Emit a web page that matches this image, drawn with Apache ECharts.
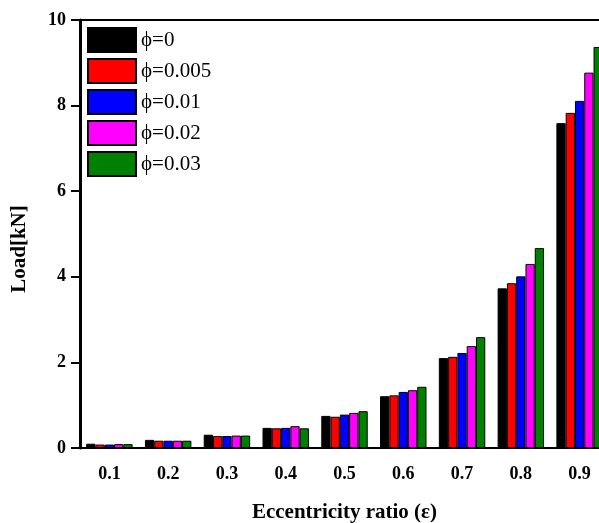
<!DOCTYPE html>
<html>
<head>
<meta charset="utf-8">
<script src="https://cdn.jsdelivr.net/npm/echarts@6/dist/echarts.min.js"></script>
<style>
html,body{margin:0;padding:0;background:#fff;}
#c{width:599px;height:523px;}
</style>
</head>
<body>
<div id="c"></div>
<script>
const categories = ['0.1','0.2','0.3','0.4','0.5','0.6','0.7','0.8','0.9'];
const seriesNames = ['ϕ=0','ϕ=0.005','ϕ=0.01','ϕ=0.02','ϕ=0.03'];
const phi0     = [0.10, 0.19, 0.31, 0.47, 0.75, 1.21, 2.10, 3.73, 7.59];
const phi0005  = [0.08, 0.17, 0.28, 0.46, 0.73, 1.23, 2.13, 3.85, 7.83];
const phi001   = [0.08, 0.17, 0.28, 0.47, 0.78, 1.31, 2.22, 4.01, 8.11];
const phi002   = [0.09, 0.17, 0.29, 0.51, 0.82, 1.35, 2.38, 4.30, 8.77];
const phi003   = [0.09, 0.17, 0.29, 0.46, 0.86, 1.43, 2.59, 4.67, 9.37];
const yTicks = [0, 2, 4, 6, 8, 10];

const colors = ['#000000','#ff0000','#0000ff','#ff00ff','#008000'];
const allData = [phi0, phi0005, phi001, phi002, phi003];
const font = 'Liberation Serif, Times New Roman, serif';

const chart = echarts.init(document.getElementById('c'), null, {renderer:'canvas'});
chart.setOption({
  animation: false,
  backgroundColor: '#fff',
  grid: {left: 80, top: 20, right: -10, bottom: 75, outerBoundsMode: 'none', containLabel: false,
         show: true, borderColor: '#000', borderWidth: 2, backgroundColor: 'transparent'},
  legend: {
    orient: 'vertical', left: 82, top: 22, itemWidth: 48, itemHeight: 24, itemGap: 5, icon: 'rect',
    textStyle: {fontFamily: font, fontSize: 21, color: '#000'},
    data: seriesNames
  },
  xAxis: {
    type: 'category', data: categories,
    name: 'Eccentricity ratio (ε)', nameLocation: 'middle', nameGap: 54,
    nameTextStyle: {fontFamily: font, fontSize: 21, fontWeight: 'bold', color: '#000'},
    axisLine: {lineStyle: {color: '#000', width: 2}},
    axisTick: {alignWithLabel: true, length: 9, lineStyle: {width: 2, color: '#000'}},
    axisLabel: {fontFamily: font, fontSize: 18, fontWeight: 'bold', color: '#000', margin: 17}
  },
  yAxis: {
    type: 'value', min: yTicks[0], max: yTicks[yTicks.length-1], interval: 2,
    name: 'Load[kN]', nameLocation: 'middle', nameGap: 50,
    nameTextStyle: {fontFamily: font, fontSize: 21, fontWeight: 'bold', color: '#000', padding: [0, 30, 0, 0]},
    axisLine: {show: true, lineStyle: {color: '#000', width: 3}},
    axisTick: {show: true, length: 9, lineStyle: {width: 2, color: '#000'}},
    axisLabel: {fontFamily: font, fontSize: 18, fontWeight: 'bold', color: '#000', margin: 14},
    splitLine: {show: false}
  },
  series: seriesNames.map((n, i) => ({
    name: n, type: 'bar', data: allData[i],
    barGap: '0%', barCategoryGap: '21%',
    itemStyle: {color: colors[i], borderColor: '#000', borderWidth: 1}
  }))
});
</script>
</body>
</html>
